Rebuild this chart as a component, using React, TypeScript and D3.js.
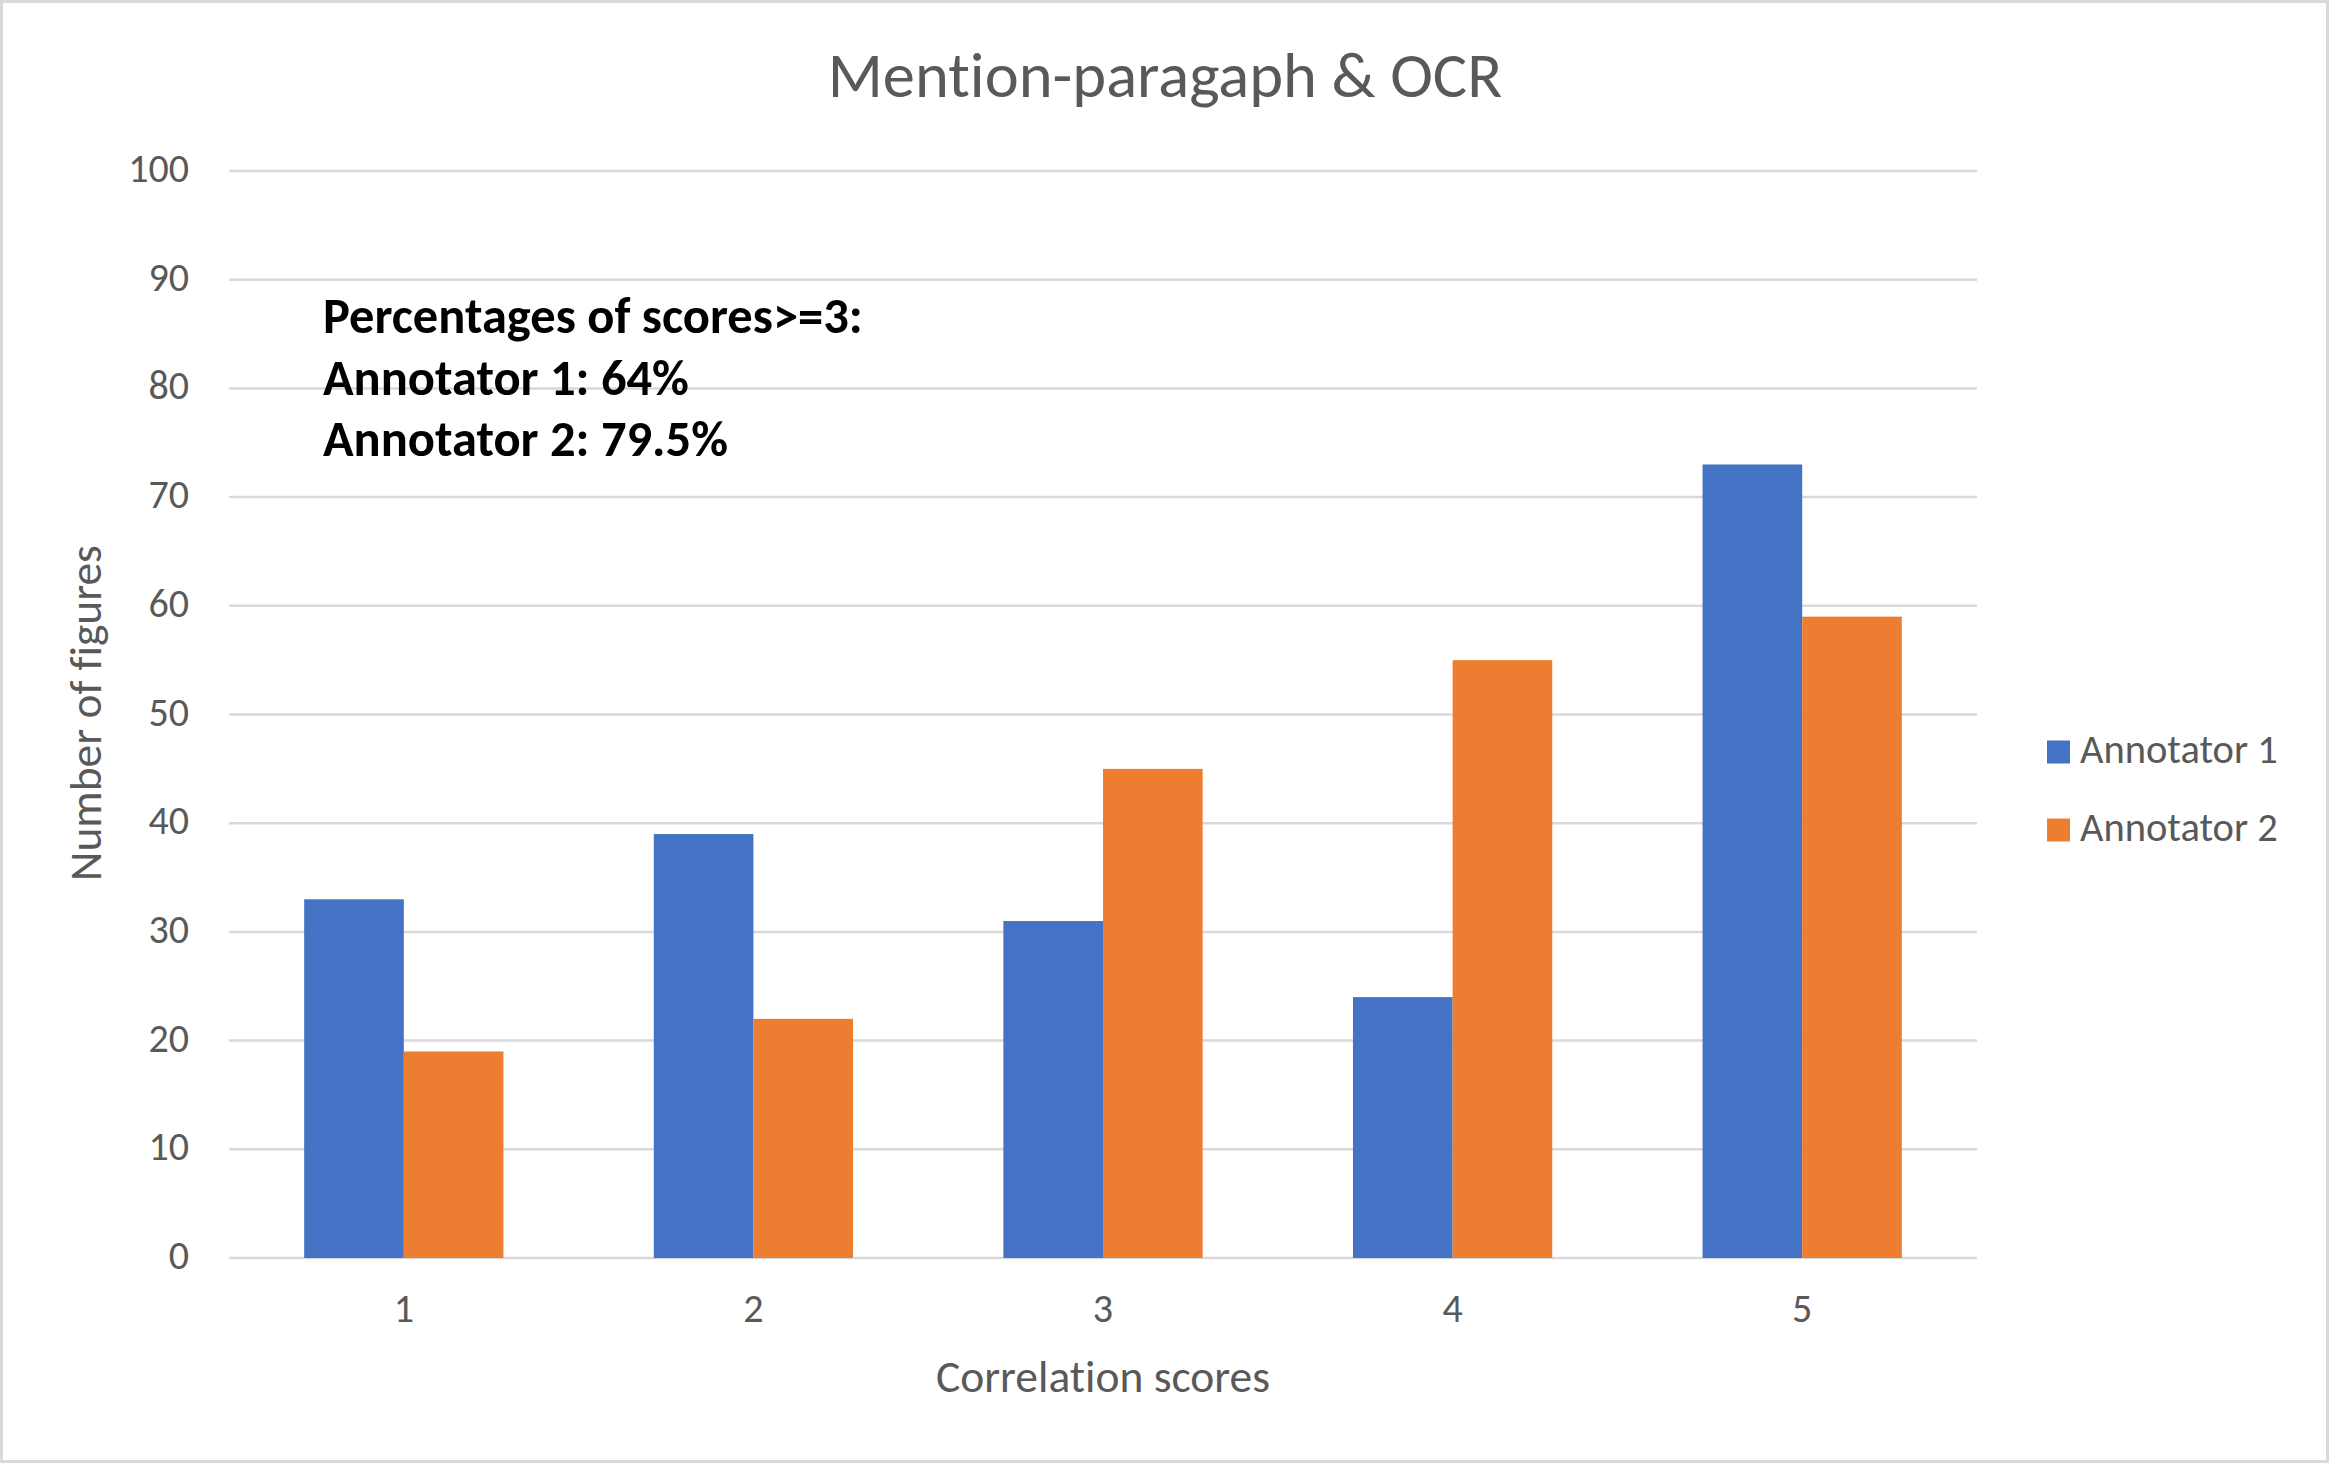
import React from 'react';
import * as d3 from 'd3';

// chart data
const categories = ['1', '2', '3', '4', '5'];
const seriesNames = ['Annotator 1', 'Annotator 2'];
const annotator1 = [33, 39, 31, 24, 73];
const annotator2 = [19, 22, 45, 55, 59];
const seriesColors = ['#4472C4', '#ED7D31'];
const yTicks = [0, 10, 20, 30, 40, 50, 60, 70, 80, 90, 100];
const noteLines = ['Percentages of scores>=3:', 'Annotator 1: 64%', 'Annotator 2: 79.5%'];

const W = 2337;
const H = 1471;
const FONT = "Carlito, Lato, sans-serif";
const TEXT = '#595959';
const GRID = '#D9D9D9';

const App: React.FC = () => {
  const x = d3.scaleBand<string>().domain(categories).range([229, 1977]).paddingInner(0.43).paddingOuter(0.215);
  const xSub = d3.scaleBand<string>().domain(seriesNames).range([0, x.bandwidth()]);
  const y = d3.scaleLinear().domain([0, 100]).range([1258, 171]);
  const values = [annotator1, annotator2];

  const legendY = d3.scalePoint<string>().domain(seriesNames).range([752, 830]);

  return (
    <svg
      width={W}
      height={H}
      style={{ position: 'absolute', left: 0, top: 0, background: '#fff', fontVariantLigatures: 'none' }}
      fontFamily={FONT}
    >
      <rect x={1.5} y={1.5} width={2326} height={1460} fill="#fff" stroke={GRID} strokeWidth={3} />

      {/* title */}
      <text x={1165} y={97} textAnchor="middle" fontSize={64.5} fill={TEXT}>
        Mention-paragaph &amp; OCR
      </text>

      {/* gridlines + y labels */}
      {yTicks.map(t => (
        <g key={t}>
          <line x1={229} x2={1977} y1={y(t)} y2={y(t)} stroke={GRID} strokeWidth={2.5} />
          <text x={189} y={y(t) + 11} textAnchor="end" fontSize={40} fill={TEXT}>
            {t}
          </text>
        </g>
      ))}

      {/* bars */}
      {categories.map((c, i) => (
        <g key={c} transform={`translate(${x(c)},0)`}>
          {seriesNames.map((s, j) => (
            <rect
              key={s}
              x={xSub(s)}
              y={y(values[j][i])}
              width={xSub.bandwidth()}
              height={y(0) - y(values[j][i])}
              fill={seriesColors[j]}
            />
          ))}
        </g>
      ))}

      {/* x labels */}
      {categories.map(c => (
        <text key={c} x={(x(c) ?? 0) + x.bandwidth() / 2} y={1322} textAnchor="middle" fontSize={40} fill={TEXT}>
          {c}
        </text>
      ))}

      {/* axis titles */}
      <text x={1103} y={1392} textAnchor="middle" fontSize={45.5} fill={TEXT}>
        Correlation scores
      </text>
      <text transform="translate(101,713) rotate(-90)" textAnchor="middle" fontSize={45.5} fill={TEXT}>
        Number of figures
      </text>

      {/* annotation */}
      {noteLines.map((line, i) => (
        <text key={line} x={323} y={333 + i * 61.5} fontSize={50.5} fontWeight={800} fill="#000">
          {line}
        </text>
      ))}

      {/* legend */}
      {seriesNames.map((s, j) => (
        <g key={s} transform={`translate(2047,${legendY(s)})`}>
          <rect x={0} y={-11.5} width={23} height={23} fill={seriesColors[j]} />
          <text x={33} y={11} fontSize={40.5} fill={TEXT}>
            {s}
          </text>
        </g>
      ))}
    </svg>
  );
};

export default App;
